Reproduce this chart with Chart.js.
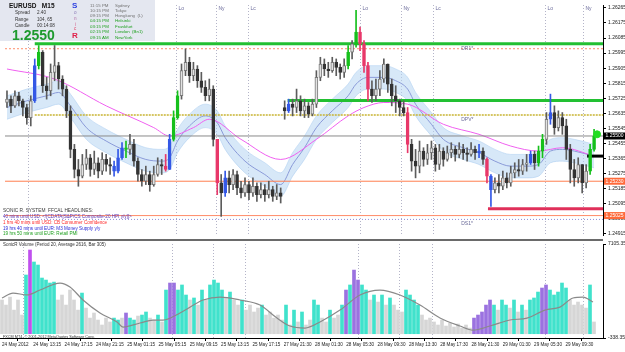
<!DOCTYPE html>
<html>
<head>
<meta charset="utf-8">
<script src="https://cdn.jsdelivr.net/npm/chart.js@4.4.0/dist/chart.umd.min.js"></script>
<style>
body{margin:0;background:#fff;width:625px;height:352px;overflow:hidden;position:relative;font-family:"Liberation Sans",Arial,sans-serif}
canvas{position:absolute;left:0}
#price{top:0}
#vol{top:240px}
.t{position:absolute;white-space:nowrap;line-height:1}
#info{position:absolute;left:0;top:0;width:155px;height:41px;background:#e4e7f0}
#sep{position:absolute;left:0;top:239px;width:603px;height:2px;background:#6a6a6a}
</style>
</head>
<body>
<canvas id="price" width="625" height="240"></canvas>
<canvas id="vol" width="625" height="112"></canvas>
<div id="sep"></div>

<div id="info">
  <div class="t" style="left:9px;top:3px;font-size:6.5px;font-weight:bold;color:#111">EURUSD&nbsp;&nbsp;&nbsp;M15</div>
  <div class="t" style="left:15px;top:11px;font-size:4.6px;color:#333">Spread</div>
  <div class="t" style="left:37px;top:11px;font-size:4.6px;color:#333">2.40</div>
  <div class="t" style="left:15px;top:17.5px;font-size:4.6px;color:#333">Range</div>
  <div class="t" style="left:37px;top:17.5px;font-size:4.6px;color:#333">104, 65</div>
  <div class="t" style="left:15px;top:24px;font-size:4.6px;color:#333">Candle</div>
  <div class="t" style="left:37px;top:24px;font-size:4.6px;color:#333">00:14:08</div>
  <div class="t" style="left:12px;top:28px;font-size:14px;font-weight:bold;color:#1e9a2e">1.2550</div>
  <div class="t" style="left:72px;top:2px;font-size:8px;font-weight:bold;color:#2a3ee0">S</div>
  <div class="t" style="left:74px;top:11px;font-size:4.6px;color:#8a7ab8">o</div>
  <div class="t" style="left:74px;top:17px;font-size:4.6px;color:#b070a8">n</div>
  <div class="t" style="left:75px;top:22.5px;font-size:4.6px;color:#d05a88">i</div>
  <div class="t" style="left:74px;top:27px;font-size:4.6px;color:#e04466">c</div>
  <div class="t" style="left:72px;top:32px;font-size:8px;font-weight:bold;color:#e0204a">R</div>
  <div class="t" style="left:90px;top:4px;font-size:4.4px;color:#707070">11:15 PM</div>
  <div class="t" style="left:115px;top:4px;font-size:4.4px;color:#707070">Sydney</div>
  <div class="t" style="left:90px;top:9px;font-size:4.4px;color:#707070">10:15 PM</div>
  <div class="t" style="left:115px;top:9px;font-size:4.4px;color:#707070">Tokyo</div>
  <div class="t" style="left:90px;top:14px;font-size:4.4px;color:#707070">09:15 PM</div>
  <div class="t" style="left:115px;top:14px;font-size:4.4px;color:#707070">Hongkong&nbsp;&nbsp;(L)</div>
  <div class="t" style="left:90px;top:19px;font-size:4.4px;color:#1ea01e">04:15 PM</div>
  <div class="t" style="left:115px;top:19px;font-size:4.4px;color:#1ea01e">Helsinki</div>
  <div class="t" style="left:90px;top:24.5px;font-size:4.4px;color:#1ea01e">03:15 PM</div>
  <div class="t" style="left:115px;top:24.5px;font-size:4.4px;color:#1ea01e">Frankfurt</div>
  <div class="t" style="left:90px;top:30px;font-size:4.4px;color:#1ea01e">02:15 PM</div>
  <div class="t" style="left:115px;top:30px;font-size:4.4px;color:#1ea01e">London&nbsp;&nbsp;(Bn1)</div>
  <div class="t" style="left:90px;top:35.5px;font-size:4.4px;color:#1ea01e">09:15 AM</div>
  <div class="t" style="left:115px;top:35.5px;font-size:4.4px;color:#1ea01e">NewYork</div>
</div>

<div class="t" style="left:3px;top:208.5px;font-size:4.8px;color:#3a3a3a">SONIC R. SYSTEM&nbsp;&nbsp;FFCAL HEADLINES:</div>
<div class="t" style="left:3px;top:214.5px;font-size:4.6px;color:#5a34b4">40 mins until USD: &lt;![CDATA[S&amp;P/CS Composite-20 HPI y/y]]&gt;</div>
<div class="t" style="left:3px;top:220.5px;font-size:4.6px;color:#ff2a2a">1 hrs 40 mins until USD: CB Consumer Confidence</div>
<div class="t" style="left:3px;top:226.5px;font-size:4.6px;color:#2a2ad8">19 hrs 40 mins until EUR: M3 Money Supply y/y</div>
<div class="t" style="left:3px;top:232px;font-size:4.6px;color:#20a020">19 hrs 50 mins until EUR: Retail PMI</div>
<div class="t" style="left:3px;top:243px;font-size:4.5px;color:#303030">SonicR Volume (Period 20, Average 2616, Bar 305)</div>
<div class="t" style="left:3px;top:335.5px;font-size:3.8px;color:#303030">FXCM MT4, © 2001-2012 MetaQuotes Software Corp.</div>

<script>
// EURUSD M15, one candle per slot, bar index 0..148
var openP = [1.2570,1.2572,1.2568,1.2574,1.2571,1.2567,1.2561,1.2571,1.2592,1.2600,
  1.2580,1.2577,1.2588,1.2592,1.2584,1.2578,1.2565,1.2542,1.2530,1.2526,
  1.2533,1.2537,1.2530,1.2534,1.2529,1.2536,1.2533,1.2532,1.2529,1.2537,
  1.2543,1.2542,1.2545,1.2535,1.2527,1.2523,1.2527,1.2521,1.2527,1.2533,
  1.2532,1.2530,1.2548,1.2561,1.2574,1.2589,1.2594,1.2586,1.2590,1.2583,
  1.2579,1.2574,1.2578,1.2548,1.2522,1.2516,1.2525,1.2521,1.2527,1.2519,
  1.2516,1.2521,1.2516,1.2520,1.2515,1.2518,1.2515,1.2518,1.2514,1.2516,
  1.2567,1.2565,1.2569,1.2567,1.2571,1.2565,1.2568,1.2563,1.2569,1.2585,
  1.2593,1.2590,1.2589,1.2594,1.2591,1.2588,1.2592,1.2600,1.2605,1.2612,
  1.2605,1.2592,1.2578,1.2574,1.2578,1.2584,1.2593,1.2581,1.2574,1.2571,
  1.2567,1.2564,1.2545,1.2535,1.2532,1.2541,1.2536,1.2540,1.2543,1.2533,
  1.2541,1.2536,1.2540,1.2542,1.2539,1.2542,1.2540,1.2539,1.2542,1.2540,
  1.2541,1.2536,1.2526,1.2518,1.2522,1.2520,1.2525,1.2522,1.2528,1.2530,
  1.2529,1.2533,1.2534,1.2539,1.2534,1.2541,1.2548,1.2560,1.2564,1.2555,
  1.2561,1.2556,1.2542,1.2530,1.2525,1.2533,1.2522,1.2529,1.2542];
var highP = [1.2577,1.2574,1.2577,1.2576,1.2572,1.2569,1.2574,1.2596,1.2604,1.2601,
  1.2585,1.2593,1.2604,1.2594,1.2586,1.2580,1.2568,1.2545,1.2536,1.2539,
  1.2542,1.2539,1.2541,1.2537,1.2540,1.2539,1.2537,1.2535,1.2542,1.2546,
  1.2547,1.2551,1.2548,1.2537,1.2530,1.2532,1.2529,1.2532,1.2537,1.2536,
  1.2539,1.2551,1.2565,1.2577,1.2593,1.2602,1.2597,1.2594,1.2592,1.2588,
  1.2583,1.2584,1.2580,1.2548,1.2527,1.2529,1.2529,1.2530,1.2529,1.2523,
  1.2525,1.2523,1.2525,1.2522,1.2522,1.2521,1.2523,1.2520,1.2521,1.2519,
  1.2571,1.2572,1.2572,1.2578,1.2574,1.2572,1.2570,1.2572,1.2589,1.2597,
  1.2596,1.2594,1.2597,1.2596,1.2593,1.2596,1.2604,1.2607,1.2625,1.2615,
  1.2607,1.2594,1.2583,1.2584,1.2589,1.2596,1.2593,1.2584,1.2580,1.2572,
  1.2571,1.2567,1.2548,1.2542,1.2547,1.2543,1.2545,1.2547,1.2545,1.2545,
  1.2543,1.2544,1.2546,1.2544,1.2546,1.2545,1.2543,1.2546,1.2544,1.2545,
  1.2543,1.2537,1.2527,1.2525,1.2527,1.2529,1.2528,1.2532,1.2534,1.2536,
  1.2536,1.2539,1.2541,1.2541,1.2544,1.2551,1.2564,1.2575,1.2568,1.2565,
  1.2564,1.2560,1.2545,1.2536,1.2537,1.2533,1.2533,1.2545,1.2554];
var lowP = [1.2567,1.2564,1.2567,1.2568,1.2562,1.2557,1.2556,1.2570,1.2590,1.2576,
  1.2572,1.2574,1.2583,1.2578,1.2574,1.2561,1.2537,1.2525,1.2520,1.2525,
  1.2530,1.2526,1.2527,1.2525,1.2527,1.2529,1.2527,1.2526,1.2528,1.2536,
  1.2537,1.2539,1.2532,1.2523,1.2520,1.2521,1.2517,1.2520,1.2526,1.2527,
  1.2529,1.2530,1.2547,1.2560,1.2572,1.2586,1.2582,1.2583,1.2579,1.2576,
  1.2571,1.2571,1.2544,1.2515,1.2502,1.2514,1.2516,1.2518,1.2515,1.2513,
  1.2514,1.2512,1.2514,1.2511,1.2513,1.2511,1.2513,1.2511,1.2512,1.2510,
  1.2560,1.2564,1.2562,1.2564,1.2562,1.2561,1.2561,1.2562,1.2567,1.2583,
  1.2586,1.2585,1.2588,1.2586,1.2584,1.2585,1.2590,1.2596,1.2603,1.2601,
  1.2588,1.2571,1.2570,1.2571,1.2574,1.2582,1.2576,1.2568,1.2564,1.2562,
  1.2562,1.2540,1.2529,1.2525,1.2528,1.2532,1.2533,1.2536,1.2529,1.2530,
  1.2532,1.2535,1.2537,1.2535,1.2537,1.2536,1.2535,1.2538,1.2536,1.2537,
  1.2533,1.2522,1.2508,1.2516,1.2516,1.2518,1.2519,1.2520,1.2525,1.2526,
  1.2527,1.2529,1.2533,1.2530,1.2532,1.2537,1.2545,1.2557,1.2551,1.2553,
  1.2551,1.2536,1.2522,1.2520,1.2522,1.2516,1.2519,1.2527,1.2541];
var closeP = [1.2572,1.2568,1.2574,1.2571,1.2567,1.2561,1.2571,1.2592,1.2600,1.2580,
  1.2577,1.2588,1.2592,1.2584,1.2578,1.2565,1.2542,1.2530,1.2526,1.2533,
  1.2537,1.2530,1.2534,1.2529,1.2536,1.2533,1.2532,1.2529,1.2537,1.2543,
  1.2542,1.2545,1.2535,1.2527,1.2523,1.2527,1.2521,1.2527,1.2533,1.2532,
  1.2530,1.2548,1.2561,1.2574,1.2589,1.2594,1.2586,1.2590,1.2583,1.2579,
  1.2574,1.2578,1.2548,1.2522,1.2516,1.2525,1.2521,1.2527,1.2519,1.2516,
  1.2521,1.2516,1.2520,1.2515,1.2518,1.2515,1.2518,1.2514,1.2516,1.2514,
  1.2565,1.2569,1.2567,1.2571,1.2565,1.2568,1.2563,1.2569,1.2585,1.2593,
  1.2590,1.2589,1.2594,1.2591,1.2588,1.2592,1.2600,1.2605,1.2612,1.2605,
  1.2592,1.2578,1.2574,1.2578,1.2584,1.2593,1.2581,1.2574,1.2571,1.2567,
  1.2564,1.2545,1.2535,1.2532,1.2541,1.2536,1.2540,1.2543,1.2533,1.2541,
  1.2536,1.2540,1.2542,1.2539,1.2542,1.2540,1.2539,1.2542,1.2540,1.2541,
  1.2536,1.2526,1.2518,1.2522,1.2520,1.2525,1.2522,1.2528,1.2530,1.2529,
  1.2533,1.2534,1.2539,1.2534,1.2541,1.2548,1.2560,1.2564,1.2555,1.2561,
  1.2556,1.2542,1.2530,1.2525,1.2533,1.2522,1.2529,1.2542,1.2550];

// PVA highlighted candles
var blueBars = [7,27,28,29,41,55,71,119,122,132,137];
var greenBars = [8,30,42,43,86,88,134,135,147,148];
var redBars = [40,53,89,90,91,101,121];

// dragon band (EMA 34 of high / close / low) and EMA 89
var emaIdx = [0,5,10,13,16,20,25,30,35,39,41,43,46,50,53,55,60,65,69,72,75,78,82,86,88,91,95,98,101,103,107,110,115,119,123,127,131,134,137,140,143,148];
var emaMid = [1.2567,1.2571,1.2574,1.2576,1.2568,1.2555,1.2547,1.2541,1.2536,1.2535,1.2537,1.2547,1.2556,1.2562,1.2558,1.2549,1.2535,1.2527,1.2521,1.2533,1.2543,1.2555,1.2565,1.2574,1.2581,1.2585,1.2585,1.2583,1.2578,1.2569,1.2557,1.2548,1.2543,1.2540,1.2535,1.2532,1.2532,1.2533,1.2541,1.2542,1.2541,1.2538];
var emaHigh = [1.2574,1.2578,1.2581,1.2583,1.2575,1.2562,1.2554,1.2548,1.2543,1.2542,1.2544,1.2554,1.2563,1.2569,1.2565,1.2556,1.2542,1.2534,1.2528,1.2540,1.2550,1.2562,1.2572,1.2581,1.2588,1.2592,1.2592,1.2590,1.2585,1.2576,1.2564,1.2555,1.2550,1.2547,1.2542,1.2539,1.2539,1.2540,1.2548,1.2549,1.2548,1.2545];
var emaLow = [1.2560,1.2564,1.2567,1.2569,1.2561,1.2548,1.2540,1.2534,1.2529,1.2528,1.2530,1.2540,1.2549,1.2555,1.2551,1.2542,1.2528,1.2520,1.2514,1.2526,1.2536,1.2548,1.2558,1.2567,1.2574,1.2578,1.2578,1.2576,1.2571,1.2562,1.2550,1.2541,1.2536,1.2533,1.2528,1.2525,1.2525,1.2526,1.2534,1.2535,1.2534,1.2531];
var slowIdx = [0,12,25,37,41,47,51,59,69,78,86,90,95,101,110,119,127,134,140,148];
var slowVal = [1.2590,1.2584,1.2568,1.2555,1.2550,1.2555,1.2560,1.2548,1.2536,1.2548,1.2562,1.2567,1.2570,1.2569,1.2557,1.2551,1.2544,1.2541,1.2543,1.2538];

// horizontal levels: value and first bar index
var levelVals = [1.26050,1.26021,1.25712,1.25625,1.25500,1.25380,1.25230,1.25066,1.25025,1.25002];
var levelFrom = [7,-0.5,70.75,7,-0.5,146.25,-0.5,121.25,-0.5,-0.5];
var levelNames = ['DR1*','','','DPV*','','','','','','DS1*'];
var tagLevels = [4,6,8];

var priceTicks = [1.26265,1.26175,1.26085,1.25995,1.25905,1.25815,1.25725,1.25635,1.25545,1.25455,1.25365,1.25275,1.25185,1.25095,1.25005,1.24915];

var sessionIdx = [5.25,42.5,52.75,60.75,89,99.25,107.5,135.75,145.25];
var sessionNames = ['Ny','Lo','Ny','Lc','Lo','Ny','Lc','Lo','Ny'];

// volume
var volValues = [2670,2270,2900,1870,2670,1480,4650,6630,5680,5440,
  4410,4250,4015,4090,2670,3065,2270,3460,2670,1870,
  3220,2030,1240,1640,1085,690,1240,930,1240,1085,
  1240,1640,1240,1085,1400,1480,1720,1240,1085,1480,
  930,3460,4015,4015,3460,3860,3065,2670,2830,2270,
  3460,2670,3860,4250,4015,3460,2830,3300,2670,2270,
  2670,1870,2270,1720,2030,2270,1480,1720,1240,1480,
  1085,2270,690,1870,930,1720,690,1085,2670,2270,
  1240,930,1870,1240,1480,2270,3460,3860,5040,4250,
  3860,3460,2670,3065,2510,3065,2270,2830,2270,1870,
  1720,3460,3065,2670,2270,1480,1085,1240,930,690,
  1085,610,850,530,770,450,690,450,1240,1480,
  1720,2270,2670,2270,1870,2670,2270,2030,2670,1720,
  2270,1870,2670,2830,3300,3620,3860,3460,3065,3300,
  4015,3620,2670,2270,2510,2270,2030,3860,930];
var volType = ('ggggggtmtt' + 'ttttgggggg' + 'tgggggggtt' + 'gpttgttggt' + 'gtpptttgtg' +
  'tgttttgtgg' + 'tggggtgggg' + 'gtgtgtggtt' + 'ggtggtptpp' + 'ttgtgtgtgg' +
  'gttttggggg' + 'ggggggggpp' + 'ppptgttgtg' + 'tgtttppttt' + 'ttgggggtg').split('');
var avgIdx = [0,2.75,6.25,9.5,14.5,17,20.25,24.5,28.75,30.25,34.5,37.75,40.25,44.5,48.75,50.25,54.5,59.5,64.5,68.75,72,75.75,79.5,84.5,89.5,94.5,99.5,104.5,109.5,114.5,117.75,122,127,131.25,135.75,139.5,142.75,145.25,147.75];
var avgVal = [2830,3220,3070,3460,4015,3700,2670,1640,930,530,850,1085,1085,1640,2430,2670,2900,2670,2270,1240,610,450,930,1870,3065,3460,3065,2270,1240,610,290,610,1085,1240,1870,2110,2830,2900,2510];

var timeLabels = ['24 May 2012','24 May 13:15','24 May 17:15','24 May 21:15','25 May 01:15','25 May 05:15','25 May 09:15','25 May 13:15','25 May 17:15','27 May 21:30','28 May 01:30','28 May 05:30','28 May 09:30','28 May 13:30','28 May 17:30','28 May 21:30','29 May 01:30','29 May 05:30','29 May 09:30'];

Chart.defaults.font.family = '"Liberation Sans", Arial, sans-serif';
Chart.defaults.animation = false;

var FONT = '"Liberation Sans", Arial, sans-serif';

function kindOf(i) {
  if (blueBars.indexOf(i) >= 0) return '#3458e6';
  if (greenBars.indexOf(i) >= 0) return '#16c01c';
  if (redBars.indexOf(i) >= 0) return '#e8386a';
  return null;
}
var bodyFill = closeP.map(function (c, i) {
  return kindOf(i) || (c >= openP[i] ? '#e2e2e2' : '#333333');
});
var bodyEdge = closeP.map(function (c, i) {
  return kindOf(i) || (c >= openP[i] ? '#787878' : '#333333');
});
var wickFill = closeP.map(function (c, i) { return kindOf(i) || '#5c5c5c'; });

function pts(xs, ys) { return xs.map(function (x, k) { return {x: x, y: ys[k]}; }); }

var levelColor = ['#22c032','#ff8c69','#22c032','#c8b432','#8a8a8a','#000000','#ff7f50','#e0305a','#ff8c69','#8c8cd8'];
var levelWidth = [3,1,3,1.5,1,3,1,3,1,1];
var levelDash = [[],[2,2],[],[2,1],[],[],[],[],[],[1,2]];

var levelSets = levelVals.map(function (v, k) {
  return {
    type: 'line', data: [{x: levelFrom[k], y: v}, {x: 150.25, y: v}],
    borderColor: levelColor[k], borderWidth: levelWidth[k], borderDash: levelDash[k],
    pointRadius: 0, order: 10
  };
});

var sessionPlugin = {
  id: 'sessions',
  beforeDatasetsDraw: function (chart, args, opts) {
    var ctx = chart.ctx, a = chart.chartArea, x = chart.scales.x;
    ctx.save();
    ctx.strokeStyle = '#b4b4c8';
    ctx.lineWidth = 1;
    ctx.setLineDash([1, 2]);
    sessionIdx.forEach(function (v, k) {
      var px = Math.round(x.getPixelForValue(v)) + 0.5;
      ctx.beginPath(); ctx.moveTo(px, a.top); ctx.lineTo(px, a.bottom); ctx.stroke();
      if (opts.labels) {
        ctx.fillStyle = '#6c6c9c';
        ctx.font = '5px ' + FONT;
        ctx.textBaseline = 'top';
        ctx.fillText(sessionNames[k], px + 2, a.top + 1);
      }
    });
    ctx.restore();
  }
};

var tagPlugin = {
  id: 'tags',
  afterDraw: function (chart) {
    var ctx = chart.ctx, x = chart.scales.x, y = chart.scales.y;
    ctx.save();
    ctx.font = '5px ' + FONT;
    ctx.textBaseline = 'top';
    ctx.fillStyle = '#6a6a98';
    levelNames.forEach(function (n, k) {
      if (n) ctx.fillText(n, x.getPixelForValue(114.5), y.getPixelForValue(levelVals[k]) + 2);
    });
    ctx.textBaseline = 'middle';
    tagLevels.forEach(function (k) {
      var py = y.getPixelForValue(levelVals[k]);
      ctx.fillStyle = k === 4 ? '#000' : '#ff6a3a';
      ctx.fillRect(604, py - 3.5, 21, 7);
      ctx.fillStyle = '#fff';
      ctx.fillText(levelVals[k].toFixed(5), 605.5, py);
    });
    ctx.restore();
  }
};

new Chart(document.getElementById('price'), {
  type: 'line',
  data: {
    datasets: [
      {data: pts(emaIdx, emaHigh), borderColor: 'rgba(160,198,238,0.6)', borderWidth: 0.8, pointRadius: 0, cubicInterpolationMode: 'monotone', order: 20},
      {data: pts(emaIdx, emaLow), borderColor: 'rgba(160,198,238,0.6)', borderWidth: 0.8, pointRadius: 0, cubicInterpolationMode: 'monotone', fill: '-1', backgroundColor: 'rgba(182,213,242,0.55)', order: 19},
      {data: pts(emaIdx, emaMid), borderColor: '#8a9ad8', borderWidth: 1, pointRadius: 0, cubicInterpolationMode: 'monotone', order: 15},
      {data: pts(slowIdx, slowVal), borderColor: '#f060f0', borderWidth: 1, pointRadius: 0, cubicInterpolationMode: 'monotone', order: 14}
    ].concat(levelSets).concat([
      {type: 'bar', data: lowP.map(function (l, i) { return {x: i, y: [l, highP[i]]}; }),
        backgroundColor: wickFill, barThickness: 1, grouped: false, order: 5},
      {type: 'bar', data: openP.map(function (o, i) { return {x: i, y: [o, closeP[i]]}; }),
        backgroundColor: bodyFill, borderColor: bodyEdge, borderWidth: 1, borderSkipped: false,
        barThickness: 3, minBarLength: 1, grouped: false, order: 4},
      {type: 'scatter', data: [{x: 148.75, y: 1.2551}], backgroundColor: '#22dd22', borderColor: '#22dd22', pointRadius: 3.5, order: 0}
    ])
  },
  options: {
    responsive: false,
    layout: {padding: {top: 2, bottom: 2, left: 0, right: 0}},
    plugins: {legend: {display: false}, tooltip: {enabled: false}, sessions: {labels: true}},
    scales: {
      x: {type: 'linear', min: -0.5, max: 150.25, offset: false, display: false},
      y: {
        type: 'linear', position: 'right', min: 1.24909, max: 1.26282,
        afterBuildTicks: function (s) { s.ticks = priceTicks.map(function (v) { return {value: v}; }); },
        afterFit: function (s) { s.width = 22; s.paddingTop = 0; s.paddingBottom = 0; },
        ticks: {font: {size: 5}, color: '#222', padding: 2, callback: function (v) { return v.toFixed(5); }},
        grid: {drawOnChartArea: false, tickLength: 3, color: '#000'},
        border: {color: '#000'}
      }
    }
  },
  plugins: [sessionPlugin, tagPlugin]
});

var volColor = {g: '#d6d6d6', t: '#40e2cc', p: '#9b72e0', m: '#c050ee'};

new Chart(document.getElementById('vol'), {
  type: 'line',
  data: {
    datasets: [
      {data: pts(avgIdx, avgVal), borderColor: '#8a8a8a', borderWidth: 1.2, pointRadius: 0, cubicInterpolationMode: 'monotone', order: 1},
      {type: 'bar', data: volValues.map(function (v, i) { return {x: i, y: v}; }),
        backgroundColor: volType.map(function (c) { return volColor[c]; }), barThickness: 3, grouped: false, order: 2}
    ]
  },
  options: {
    responsive: false,
    layout: {padding: {top: 4, bottom: 0, left: 0, right: 0}},
    plugins: {legend: {display: false}, tooltip: {enabled: false}, sessions: {labels: false}},
    scales: {
      x: {
        type: 'linear', min: -0.5, max: 150.25, offset: false,
        afterBuildTicks: function (s) { s.ticks = timeLabels.map(function (t, k) { return {value: k * 7.825}; }); },
        afterFit: function (s) { s.height = 14; s.paddingLeft = 0; s.paddingRight = 0; },
        ticks: {autoSkip: false, maxRotation: 0, align: 'start', font: {size: 4.6}, color: '#222', padding: 1,
          callback: function (v, k) { return timeLabels[k]; }},
        grid: {drawOnChartArea: false, tickLength: 3, color: '#000'},
        border: {color: '#000'}
      },
      y: {
        type: 'linear', position: 'right', min: -338.35, max: 7105.35,
        afterBuildTicks: function (s) { s.ticks = [{value: 7105.35}, {value: -338.35}]; },
        afterFit: function (s) { s.width = 22; s.paddingTop = 0; s.paddingBottom = 0; },
        ticks: {font: {size: 5}, color: '#222', padding: 2, callback: function (v) { return v.toFixed(2); }},
        grid: {drawOnChartArea: false, tickLength: 3, color: '#000'},
        border: {color: '#000'}
      }
    }
  },
  plugins: [sessionPlugin]
});
</script>
</body>
</html>
